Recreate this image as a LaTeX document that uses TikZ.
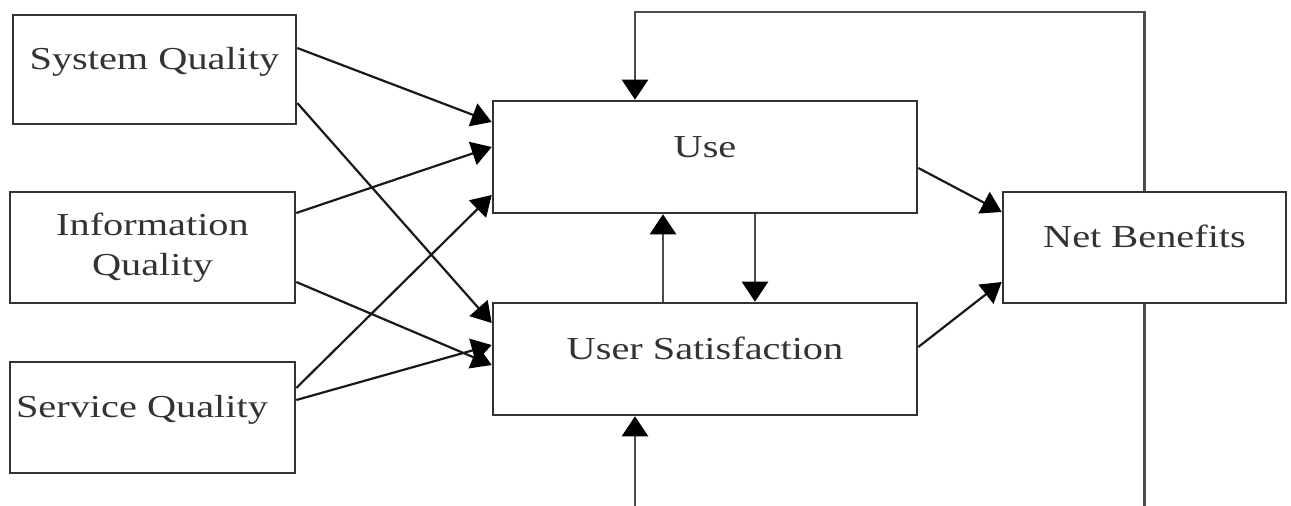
\documentclass[tikz,border=0pt]{standalone}
\usepackage{fontspec}
\setmainfont{Liberation Serif}
\usetikzlibrary{arrows.meta}
\newcommand{\wtxt}[1]{\scalebox{1.26}[1]{#1}}
\begin{document}
\begin{tikzpicture}[x=1pt,y=-1pt,
  box/.style={draw=black!80,line width=2.6pt,fill=white,inner sep=0pt,
    font=\fontsize{32}{40}\selectfont,text=black!80},
  onel/.style={text height=14pt,text depth=14pt},
  conn/.style={line width=2.2pt,draw=black!90,-{Triangle[length=20pt,width=24pt,fill=black,color=black]}},
  fb/.style={line width=2.6pt,draw=black!70,-{Triangle[length=20pt,width=26pt,fill=black,color=black]}}]
\useasboundingbox (0,0) rectangle (1291,506);
\fill[white] (0,0) rectangle (1291,506);
% boxes
\node[box,onel,minimum width=283pt,minimum height=109pt] (sys) at (154.5,69.5) {\wtxt{System Quality}};
\node[box,align=center,minimum width=285pt,minimum height=111pt] (info) at (152.5,247.5) {\wtxt{Information}\\\wtxt{Quality}};
\node[box,onel,minimum width=285pt,minimum height=111pt] (serv) at (152.5,417.5) {\hspace*{-21pt}\wtxt{Service Quality}};
\node[box,onel,minimum width=424pt,minimum height=112pt] (use) at (705,157) {\wtxt{Use}};
\node[box,onel,minimum width=424pt,minimum height=112pt] (us) at (705,359) {\wtxt{User Satisfaction}};
\node[box,onel,minimum width=283pt,minimum height=111pt] (net) at (1144.5,247.5) {\wtxt{Net Benefits}};
% left connectors
\draw[conn] ([yshift=21.5pt]sys.east) -- ([yshift=35pt]use.west);
\draw[conn] ([yshift=-33.5pt]sys.east) -- ([yshift=36pt]us.west);
\draw[conn] ([yshift=34.5pt]info.east) -- ([yshift=10pt]use.west);
\draw[conn] ([yshift=-34.5pt]info.east) -- ([yshift=-6pt]us.west);
\draw[conn] ([yshift=29.5pt]serv.east) -- ([yshift=-38pt]use.west);
\draw[conn] ([yshift=17.5pt]serv.east) -- ([yshift=14pt]us.west);
% to net benefits
\draw[conn] ([yshift=-11pt]use.east) -- ([yshift=35.5pt]net.west);
\draw[conn] ([yshift=12pt]us.east) -- ([yshift=-34.5pt]net.west);
% between use and user satisfaction
\draw[fb] ([xshift=-42pt]us.north) -- ([xshift=-42pt]use.south);
\draw[fb] ([xshift=50pt]use.south) -- ([xshift=50pt]us.north);
% feedback loops
\coordinate (topy) at (0,12);
\coordinate (boty) at (0,507.2);
\draw[fb] (net.north) -- (net.north |- topy) -| ([xshift=-70pt]use.north);
\draw[fb] (net.south) -- (net.south |- boty) -| ([xshift=-70pt]us.south);
\end{tikzpicture}
\end{document}
